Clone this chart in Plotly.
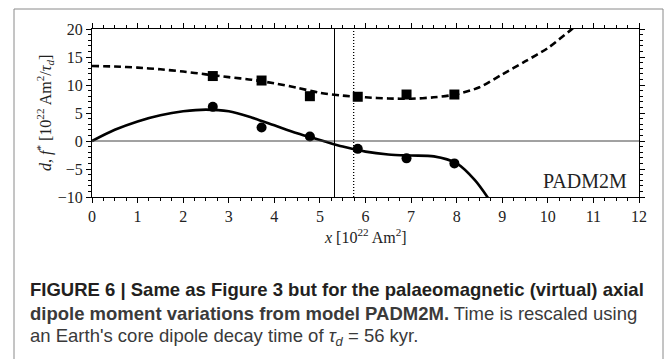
import plotly.graph_objects as go

# ---- data ----
x_curve = [0, 0.5, 1, 1.5, 2, 2.5, 3, 3.5, 4, 4.5, 5, 5.5, 6, 6.5, 7, 7.5, 8, 8.5, 9, 9.5, 10, 10.5, 11]
f_star = [13.4, 13.3, 13.1, 12.8, 12.4, 11.9, 11.4, 10.95, 10.3, 9.5, 8.6, 8.1, 7.8, 7.6, 7.55, 7.8, 8.35, 9.6, 11.9, 14.2, 16.6, 19.8, 23.0]

x_d = [0, 0.5, 1, 1.5, 2, 2.5, 3, 3.5, 4, 4.5, 5, 5.5, 6, 6.5, 7, 7.5, 8, 8.4, 8.8]
d_curve = [0, 2.0, 3.5, 4.6, 5.3, 5.6, 5.3, 4.2, 2.8, 1.4, 0.2, -1.0, -1.9, -2.4, -2.6, -2.75, -4.0, -7.0, -11.5]

x_pts = [2.65, 3.72, 4.78, 5.83, 6.9, 7.95]
f_pts = [11.6, 10.8, 8.0, 7.9, 8.3, 8.3]
d_pts = [6.1, 2.4, 0.8, -1.4, -3.1, -4.0]

x_solid_line = 5.32
x_dotted_line = 5.74

x_ticks = list(range(0, 13))
y_ticks = [-10, -5, 0, 5, 10, 15, 20]

# ---- layout constants (pixels) ----
W, H = 669, 359
L, R, T, B = 92, 639, 29, 197
pw, ph = R - L, B - T

def px(xpix):
    return (xpix - L) / pw

def py(ypix):
    return (B - ypix) / ph

SERIF = "Liberation Serif"
SANS = "Liberation Sans"

fig = go.Figure()

fig.add_trace(go.Scatter(x=x_curve, y=f_star, mode="lines",
                         line=dict(color="black", width=2.6, dash="7px,4px", shape="spline", smoothing=0.8),
                         showlegend=False, hoverinfo="skip"))
fig.add_trace(go.Scatter(x=x_d, y=d_curve, mode="lines",
                         line=dict(color="black", width=2.6, shape="spline", smoothing=0.8),
                         showlegend=False, hoverinfo="skip"))
fig.add_trace(go.Scatter(x=x_pts, y=f_pts, mode="markers",
                         marker=dict(symbol="square", size=10, color="black"),
                         showlegend=False, cliponaxis=False))
fig.add_trace(go.Scatter(x=x_pts, y=d_pts, mode="markers",
                         marker=dict(symbol="circle", size=10, color="black"),
                         showlegend=False, cliponaxis=False))

shapes = [
    dict(type="line", xref="x", yref="y", x0=0, x1=12, y0=0, y1=0,
         line=dict(color="#444", width=1)),
    dict(type="line", xref="x", yref="paper", x0=x_solid_line, x1=x_solid_line, y0=0, y1=1,
         line=dict(color="black", width=1)),
    dict(type="line", xref="x", yref="paper", x0=x_dotted_line, x1=x_dotted_line, y0=0, y1=1,
         line=dict(color="black", width=1.3, dash="1px,2px")),
    dict(type="rect", xref="paper", yref="paper", x0=px(14), x1=px(663), y0=py(375), y1=py(9),
         line=dict(color="#8a8a8a", width=1), layer="below"),
]

axis_common = dict(showline=True, linecolor="black", linewidth=1, mirror="ticks",
                   ticks="outside", ticklen=5, tickwidth=1, tickcolor="black",
                   showgrid=False, zeroline=False,
                   tickfont=dict(family=SERIF, size=16, color="#222"))

fig.update_xaxes(range=[0, 12], tickvals=x_ticks, ticktext=[str(v) for v in x_ticks],
                 minor=dict(dtick=0.25, ticks="outside", ticklen=3, tickcolor="black", showgrid=False),
                 **axis_common)
fig.update_yaxes(range=[-10, 20], tickvals=y_ticks,
                 minor=dict(dtick=1, ticks="outside", ticklen=3, tickcolor="black", showgrid=False),
                 **axis_common)

annotations = [
    dict(xref="paper", yref="paper", x=px(45), y=0.5, xanchor="center", yanchor="middle",
         textangle=-90, showarrow=False,
         text="<i>d</i>, <i>f</i><sup>*</sup> [10<sup>22</sup> Am<sup>2</sup>/<i>τ<sub>d</sub></i>]",
         font=dict(family=SERIF, size=16, color="#222")),
    dict(xref="paper", yref="paper", x=0.5, y=py(236), xanchor="center", yanchor="middle",
         showarrow=False, text="<i>x</i> [10<sup>22</sup> Am<sup>2</sup>]",
         font=dict(family=SERIF, size=16, color="#222")),
    dict(xref="paper", yref="paper", x=px(629), y=py(181), xanchor="right", yanchor="middle",
         showarrow=False, text="PADM2M",
         font=dict(family=SERIF, size=20, color="#222")),
    dict(xref="paper", yref="paper", x=px(28), y=py(289), xanchor="left", yanchor="middle",
         showarrow=False,
         text="<b>FIGURE 6 | Same as Figure 3 but for the palaeomagnetic (virtual) axial</b>",
         font=dict(family=SANS, size=18.5, color="#231f20")),
    dict(xref="paper", yref="paper", x=px(28), y=py(313), xanchor="left", yanchor="middle",
         showarrow=False,
         text="<b>dipole moment variations from model PADM2M.</b> Time is rescaled using",
         font=dict(family=SANS, size=18.5, color="#3a3a3a")),
    dict(xref="paper", yref="paper", x=px(28), y=py(337), xanchor="left", yanchor="middle",
         showarrow=False,
         text="an Earth's core dipole decay time of <i>τ<sub>d</sub></i> = 56 kyr.",
         font=dict(family=SANS, size=18.5, color="#3a3a3a")),
]

fig.update_layout(width=W, height=H, margin=dict(l=L, r=W - R, t=T, b=H - B),
                  paper_bgcolor="white", plot_bgcolor="white",
                  shapes=shapes, annotations=annotations, showlegend=False)

fig.write_html("out.html")
